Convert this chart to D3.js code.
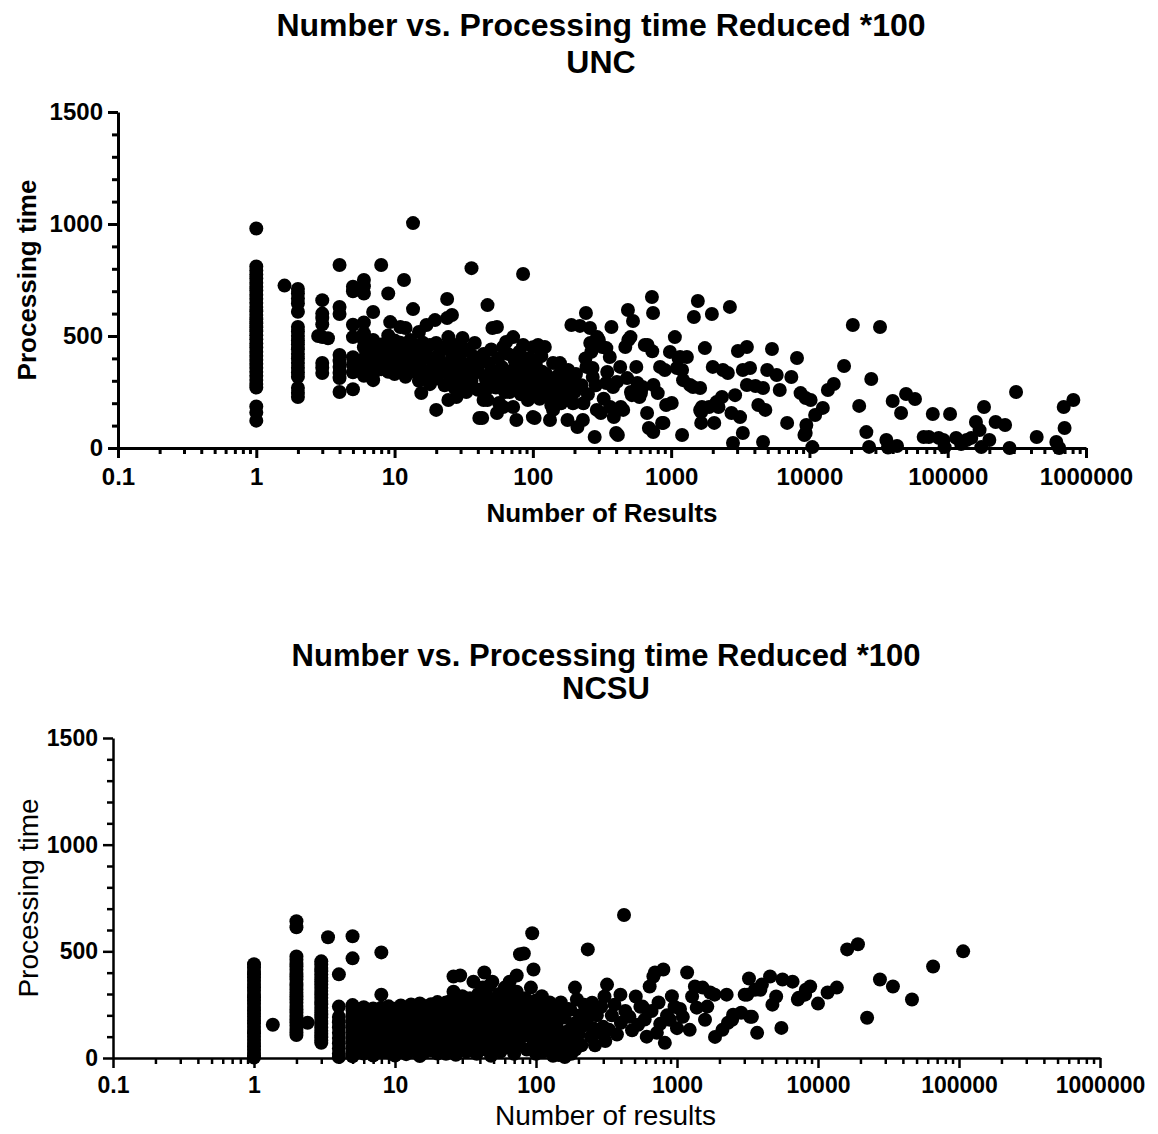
<!DOCTYPE html>
<html>
<head>
<meta charset="utf-8">
<script src="https://cdn.jsdelivr.net/npm/d3@7"></script>
<style>
  body { margin: 0; background: #fff; }
  svg { display: block; }
  text { font-family: "Liberation Sans", Arial, Helvetica, sans-serif; fill: #000; }
</style>
</head>
<body>
<svg id="chart" width="1158" height="1134"></svg>
<script>
// ---- Axis ticks shared by both panels ----
const xTicks = [0.1, 1, 10, 100, 1000, 10000, 100000, 1000000];
const xTickLabels = ["0.1", "1", "10", "100", "1000", "10000", "100000", "1000000"];
const yTicks = [0, 500, 1000, 1500];
const yTickLabels = ["0", "500", "1000", "1500"];

// ---- UNC: queries with the same number of results, grouped [results, times] ----
const uncColumns = [
  [1, [980, 810, 792, 774, 757, 738, 720, 703, 684, 666, 648, 630, 611, 594, 575, 557, 539, 521, 503, 485, 466, 449, 430, 412, 394, 376, 358, 340, 322, 304, 286, 270, 185, 158, 122]],
  [2, [710, 690, 667, 645, 608, 540, 520, 500, 480, 462, 441, 420, 400, 380, 358, 337, 318, 268, 247, 228]],
  [3, [660, 600, 580, 552, 495, 380, 358, 335]],
  [4, [817, 630, 598, 415, 388, 362, 336, 312, 250]],
  [5, [720, 700, 550, 495, 405, 372, 338, 262]],
  [6, [750, 722, 690, 560, 512, 480, 450, 400, 362, 322]],
  [7, [607, 482, 440, 402, 365, 330, 303]],
  [8, [817, 462, 425, 390, 352]],
  [9, [690, 502, 455, 412, 378, 340]],
  [10, [480, 432, 398, 362, 330]]
];

// ---- UNC: remaining queries [results, time] ----
const uncMid = [
  [1.6, 725], [2.8, 500], [3.3, 490], [9.3, 562],
  [11, 540], [11, 470], [11, 420], [11, 380], [11, 350], [11.7, 750], [12, 536], [12, 450], [12, 392], [12, 318],
  [13, 482], [13, 430], [13, 362], [13.6, 1004], [13.6, 620], [14, 408], [14, 340], [15, 518], [15, 455], [15, 380],
  [15, 300], [15.6, 245], [16, 470], [16, 350], [16, 420], [17, 549], [17, 420], [17, 322], [18, 400], [18, 460],
  [18, 285], [19, 362], [19.6, 571], [20, 469], [20, 310], [20, 170], [20, 395],
  [21, 420], [22, 380], [22, 450], [23, 340], [23, 280], [24, 665], [24, 580], [24.5, 495], [24.5, 214], [25, 440],
  [25, 300], [26, 594], [26, 400], [26, 350], [27, 350], [27, 270], [28, 228], [28, 460], [29, 280], [29, 410],
  [30, 420], [30, 330], [31, 491], [31, 380], [32, 320], [32, 440], [33, 250], [34, 440], [34, 370], [35, 360],
  [35, 290], [36, 803], [36, 300], [37, 410], [38, 469], [38, 400], [39, 340], [40, 340], [40, 260], [41, 134],
  [42, 260], [42, 380], [43, 134], [44, 214], [44, 420], [45, 320], [46, 300], [47, 638], [47, 214], [48, 380],
  [48, 270], [50, 440], [50, 350], [51, 536], [52, 330], [53, 290], [54, 270], [55, 540], [55, 156], [56, 400],
  [57, 201], [58, 320], [60, 360], [61, 451], [61, 183], [62, 300], [63, 250], [64, 473], [66, 420], [67, 340],
  [68, 250], [70, 340], [70, 290], [72, 495], [72, 183], [74, 390], [75, 300], [76, 125], [78, 280], [78, 360],
  [80, 430], [82, 240], [85, 777], [85, 460], [86, 330], [88, 350], [90, 300], [90, 400], [92, 214], [94, 270],
  [95, 400], [98, 245], [100, 138], [100, 320], [100, 450], [103, 134], [105, 370], [107, 300], [109, 460],
  [110, 280], [112, 220], [115, 410], [117, 340], [118, 259], [122, 451], [125, 330], [128, 280], [130, 230],
  [133, 125], [136, 190], [140, 170], [140, 380], [145, 300], [148, 240], [150, 260], [155, 330], [157, 379],
  [160, 200], [165, 280], [170, 320], [175, 240], [178, 125], [180, 348], [185, 300], [190, 549], [190, 290],
  [195, 200], [200, 250], [205, 330], [210, 94], [219, 545], [225, 280], [230, 125], [232, 200], [240, 400],
  [242, 603], [244, 362], [250, 240], [259, 536], [260, 469], [265, 430], [270, 357], [271, 317], [280, 49],
  [285, 280], [290, 170], [292, 495], [300, 482], [310, 156], [318, 451], [325, 220], [339, 290], [340, 446],
  [345, 339], [360, 406], [362, 183], [370, 540], [380, 272], [385, 138], [400, 67], [405, 295], [412, 58],
  [428, 362], [432, 183], [450, 170], [466, 451], [480, 312], [487, 616], [490, 482], [508, 495], [512, 250],
  [520, 236], [530, 567], [560, 362], [570, 290], [590, 228], [605, 245], [620, 272], [645, 460], [670, 156],
  [675, 460], [690, 89], [726, 674], [730, 432], [740, 603], [745, 281], [742, 71], [800, 245], [832, 362],
  [860, 112], [880, 112], [900, 348], [920, 192], [980, 429], [1010, 201]
];

const uncHigh = [
  [1064, 495], [1100, 357], [1130, 402], [1160, 406], [1200, 348], [1200, 58], [1220, 303], [1300, 406],
  [1370, 281], [1440, 272], [1460, 585], [1560, 656], [1620, 268], [1620, 170], [1650, 112], [1650, 161],
  [1670, 183], [1754, 446], [1880, 183], [1970, 598], [2000, 362], [2050, 112], [2130, 205], [2200, 183],
  [2330, 228], [2370, 348], [2570, 335], [2660, 630], [2730, 156], [2800, 22], [2900, 236], [3040, 433],
  [3150, 138], [3300, 348], [3300, 67], [3530, 451], [3530, 281], [3720, 357], [4070, 277], [4270, 192],
  [4620, 268], [4620, 27], [4800, 170], [4950, 348], [5360, 442], [5800, 326], [6100, 259], [6900, 112],
  [7400, 317], [8130, 402], [8630, 245], [9200, 58], [9400, 223], [9400, 67], [9500, 103],
  [10200, 214], [10500, 4], [11000, 147], [12500, 179], [13600, 259], [15000, 286], [17800, 366], [20600, 549],
  [22900, 188], [25800, 71], [27000, 5], [28000, 308], [32400, 540], [36000, 36], [37000, 2], [40000, 210],
  [43000, 9], [46000, 156], [50000, 241], [58000, 219], [67000, 49], [73000, 49], [78000, 152], [86000, 45],
  [93000, 36], [95000, 4], [104000, 152], [115000, 45], [125000, 18], [137000, 36], [148000, 45], [160000, 116],
  [170000, 80], [175000, 4], [183000, 183], [200000, 36], [222000, 116], [260000, 103], [280000, 0], [312000, 250],
  [440000, 49], [610000, 27], [640000, 0], [690000, 183], [700000, 89], [810000, 214]
];

// ---- NCSU: queries with the same number of results, grouped [results, times] ----
const ncsuColumns = [
  [1, [440, 424, 408, 393, 378, 362, 347, 331, 316, 300, 285, 270, 254, 239, 223, 208, 193, 177, 162, 146, 131, 116, 100, 85, 70, 54, 39, 24, 10, 2]],
  [2, [641, 613, 476, 461, 445, 430, 414, 399, 383, 368, 352, 337, 321, 306, 290, 275, 259, 244, 228, 213, 198, 182, 167, 151, 136, 120, 108]],
  [3, [453, 438, 422, 407, 391, 376, 360, 345, 329, 314, 298, 283, 267, 252, 236, 221, 205, 190, 174, 159, 143, 128, 112, 97, 82, 71]],
  [4, [392, 241, 192, 168, 143, 118, 94, 68, 44, 20, 5]],
  [5, [571, 467, 248, 224, 201, 176, 151, 128, 102, 77, 52, 28, 8]],
  [6, [238, 214, 188, 162, 133, 104, 72, 46, 21]],
  [7, [232, 206, 178, 151, 122, 93, 62, 37, 12]],
  [8, [495, 297, 236, 211, 184, 158, 133, 106, 79, 54, 30]],
  [9, [242, 203, 168, 139, 112, 86, 57, 26]],
  [10, [231, 204, 176, 148, 121, 92, 61, 34, 12]],
  [11, [246, 213, 184, 156, 127, 96, 66, 41]],
  [12, [236, 199, 171, 138, 109, 81, 49, 18]],
  [13, [251, 219, 188, 161, 132, 101, 72, 44]],
  [14, [241, 206, 174, 146, 114, 86, 53, 29]],
  [15, [256, 223, 196, 163, 136, 104, 74, 9]],
  [16, [244, 212, 178, 151, 119, 89, 61, 24]],
  [17, [229, 201, 168, 142, 108, 81, 48]],
  [18, [252, 216, 184, 153, 126, 94, 63, 36]],
  [19, [239, 204, 176, 143, 117]],
  [20, [262, 228, 199, 171, 138, 112, 79, 52, 21]]
];

// ---- NCSU: remaining queries [results, time] ----
const ncsuMid = [
  [1.36, 156], [2.4, 165], [3.35, 566],
  [21, 250], [21, 180], [21, 110], [21, 40], [22, 220], [22, 140], [22, 70], [23, 260], [23, 190], [23, 90],
  [23, 20], [24, 230], [24, 150], [24, 60], [25, 270], [25, 200], [25, 120], [25, 35], [26, 311], [26, 382],
  [26, 240], [26, 160], [26, 80], [27, 210], [27, 130], [27, 15], [28, 260], [28, 180], [28, 100], [29, 387],
  [29, 230], [29, 50], [30, 290], [30, 150], [30, 75], [31, 200], [32, 250], [32, 120], [32, 30], [33, 170],
  [34, 280], [34, 90], [35, 220], [35, 140], [36, 358], [36, 60], [37, 260], [37, 190], [38, 110], [38, 20],
  [39, 300], [40, 230], [40, 160], [41, 80], [42, 330], [42, 200], [43, 401], [43, 260], [43, 120], [44, 40],
  [45, 290], [45, 170], [46, 220], [46, 90], [47, 340], [47, 140], [48, 250], [48, 10], [49, 358], [50, 190],
  [50, 110], [52, 280], [52, 60], [53, 220], [54, 150], [55, 300], [56, 30], [57, 240], [58, 180], [58, 100],
  [60, 330], [60, 260], [62, 140], [62, 50], [64, 210], [65, 358], [66, 90], [67, 280], [68, 160], [70, 230],
  [70, 20], [72, 120], [73, 387], [73, 311], [74, 270], [75, 190], [76, 60], [77, 486], [78, 240], [80, 150],
  [80, 100], [82, 490], [84, 280], [85, 210], [86, 40], [88, 170], [90, 260], [90, 120], [92, 330], [94, 585],
  [95, 230], [96, 415], [96, 80], [98, 180], [100, 270], [100, 20], [102, 140], [105, 250], [105, 60], [108, 200],
  [110, 290], [110, 110], [112, 30], [115, 170], [118, 240], [120, 80], [122, 130], [125, 260], [128, 50],
  [130, 190], [132, 10], [135, 100], [138, 220], [140, 150], [142, 30], [145, 14], [148, 80], [150, 260],
  [152, 120], [155, 40], [158, 190], [160, 5], [165, 70], [170, 230], [172, 130], [175, 226], [178, 20],
  [180, 90], [185, 160], [189, 330], [190, 40], [195, 274], [200, 110], [205, 200], [210, 60], [215, 150],
  [220, 250], [230, 180], [233, 509], [240, 212], [245, 100], [250, 259], [255, 140], [262, 60], [270, 200],
  [280, 120], [290, 240], [300, 146], [306, 288], [310, 80], [319, 344], [330, 132], [345, 200], [360, 250],
  [375, 110], [397, 297], [400, 165], [421, 670], [430, 220], [460, 193], [480, 130], [510, 288], [530, 156],
  [550, 240], [570, 241], [590, 180], [610, 100], [640, 335], [660, 220], [680, 382], [698, 401], [720, 118],
  [740, 260], [760, 160], [800, 415], [820, 71], [850, 200], [890, 179], [920, 290], [960, 240]
];

const ncsuHigh = [
  [1000, 140], [1050, 230], [1100, 193], [1180, 401], [1230, 132], [1280, 288], [1340, 335], [1380, 236],
  [1520, 330], [1580, 179], [1640, 241], [1720, 307], [1850, 297], [1860, 99], [2100, 132], [2250, 297],
  [2300, 165], [2460, 179], [2500, 203], [2850, 212], [3020, 297], [3150, 297], [3240, 373], [3300, 193],
  [3400, 193], [3570, 320], [3700, 118], [3900, 320], [4000, 344], [4570, 382], [4750, 250], [5050, 288],
  [5500, 141], [5600, 368], [6600, 358], [7200, 274], [7300, 283], [8100, 297], [8200, 320], [8800, 335],
  [10000, 255], [11700, 307], [13600, 330], [16100, 509], [19200, 533], [22300, 189], [27500, 368], [34000, 335],
  [46400, 274], [65500, 429], [107000, 500]
];

// ---- Drawing ----
const svg = d3.select("#chart");

function flatten(columns, rest) {
  const pts = [];
  columns.forEach(([n, times]) => times.forEach(t => pts.push([n, t])));
  return pts.concat(...rest);
}

function minorDecadeTicks() {
  const out = [];
  for (let e = -1; e < 6; e++) {
    for (let m = 2; m <= 9; m++) out.push(m * Math.pow(10, e));
  }
  return out;
}

function drawPanel(cfg) {
  const g = svg.append("g");
  const x = d3.scaleLog().domain([0.1, 1e6]).range([cfg.left, cfg.right]);
  const y = d3.scaleLinear().domain([0, 1500]).range([cfg.bottom, cfg.top]);

  // titles
  g.append("text").attr("x", cfg.titleX).attr("y", cfg.titleY)
    .attr("text-anchor", "middle").attr("font-size", cfg.titleSize).attr("font-weight", "bold")
    .text(cfg.title);
  g.append("text").attr("x", cfg.titleX).attr("y", cfg.subtitleY)
    .attr("text-anchor", "middle").attr("font-size", cfg.titleSize).attr("font-weight", "bold")
    .text(cfg.subtitle);

  // minor ticks
  g.append("g").attr("transform", `translate(0,${cfg.bottom})`)
    .call(d3.axisBottom(x).tickValues(minorDecadeTicks()).tickSize(cfg.minorTick).tickFormat(""))
    .call(a => a.select(".domain").remove())
    .selectAll("line").attr("stroke", "#000").attr("stroke-width", cfg.stroke);
  const yMinor = d3.range(100, 1500, 100).filter(v => v % 500 !== 0);
  g.append("g").attr("transform", `translate(${cfg.left},0)`)
    .call(d3.axisLeft(y).tickValues(yMinor).tickSize(cfg.minorTick).tickFormat(""))
    .call(a => a.select(".domain").remove())
    .selectAll("line").attr("stroke", "#000").attr("stroke-width", cfg.stroke);

  // major axes
  const xAxis = g.append("g").attr("transform", `translate(0,${cfg.bottom})`)
    .call(d3.axisBottom(x).tickValues(xTicks).tickSize(cfg.majorTick).tickSizeOuter(0)
      .tickPadding(cfg.xPad).tickFormat((d, i) => xTickLabels[i]));
  const yAxis = g.append("g").attr("transform", `translate(${cfg.left},0)`)
    .call(d3.axisLeft(y).tickValues(yTicks).tickSize(cfg.majorTick).tickSizeOuter(0)
      .tickPadding(cfg.yPad).tickFormat((d, i) => yTickLabels[i]));
  [xAxis, yAxis].forEach(a => {
    a.attr("font-family", null).attr("font-size", null);
    a.select(".domain").attr("stroke", "#000").attr("stroke-width", cfg.stroke);
    a.selectAll(".tick line").attr("stroke", "#000").attr("stroke-width", cfg.stroke);
    a.selectAll(".tick text").attr("font-size", cfg.tickSize).attr("font-weight", cfg.tickWeight)
      .attr("fill", "#000");
  });

  // axis titles
  g.append("text").attr("x", (cfg.left + cfg.right) / 2 + cfg.xTitleShift).attr("y", cfg.xTitleY)
    .attr("text-anchor", "middle").attr("font-size", cfg.axisTitleSize).attr("font-weight", cfg.axisTitleWeight)
    .text(cfg.xTitle);
  g.append("text")
    .attr("transform", `translate(${cfg.yTitleX},${(cfg.top + cfg.bottom) / 2}) rotate(-90)`)
    .attr("text-anchor", "middle").attr("font-size", cfg.axisTitleSize).attr("font-weight", cfg.axisTitleWeight)
    .text(cfg.yTitle);

  // points
  g.append("g").selectAll("circle").data(cfg.points).join("circle")
    .attr("cx", d => x(d[0])).attr("cy", d => y(d[1])).attr("r", cfg.radius).attr("fill", "#000");
}

drawPanel({
  left: 118, right: 1086, top: 112, bottom: 448,
  title: "Number vs. Processing time Reduced *100", subtitle: "UNC",
  titleX: 601, titleY: 36, subtitleY: 73, titleSize: 32,
  xTitle: "Number of Results", yTitle: "Processing time",
  xTitleY: 522, xTitleShift: 0, yTitleX: 36, axisTitleSize: 26, axisTitleWeight: "bold",
  tickSize: 24, tickWeight: "bold", xPad: 10, yPad: 5,
  majorTick: 10, minorTick: 6, stroke: 3, radius: 7,
  points: flatten(uncColumns, [uncMid, uncHigh])
});

drawPanel({
  left: 113, right: 1100, top: 738, bottom: 1058,
  title: "Number vs. Processing time Reduced *100", subtitle: "NCSU",
  titleX: 606, titleY: 666, subtitleY: 699, titleSize: 31,
  xTitle: "Number of results", yTitle: "Processing time",
  xTitleY: 1125, xTitleShift: -1, yTitleX: 38, axisTitleSize: 28, axisTitleWeight: "normal",
  tickSize: 23, tickWeight: "bold", xPad: 9, yPad: 5,
  majorTick: 10, minorTick: 6, stroke: 2.5, radius: 7,
  points: flatten(ncsuColumns, [ncsuMid, ncsuHigh])
});
</script>
</body>
</html>
